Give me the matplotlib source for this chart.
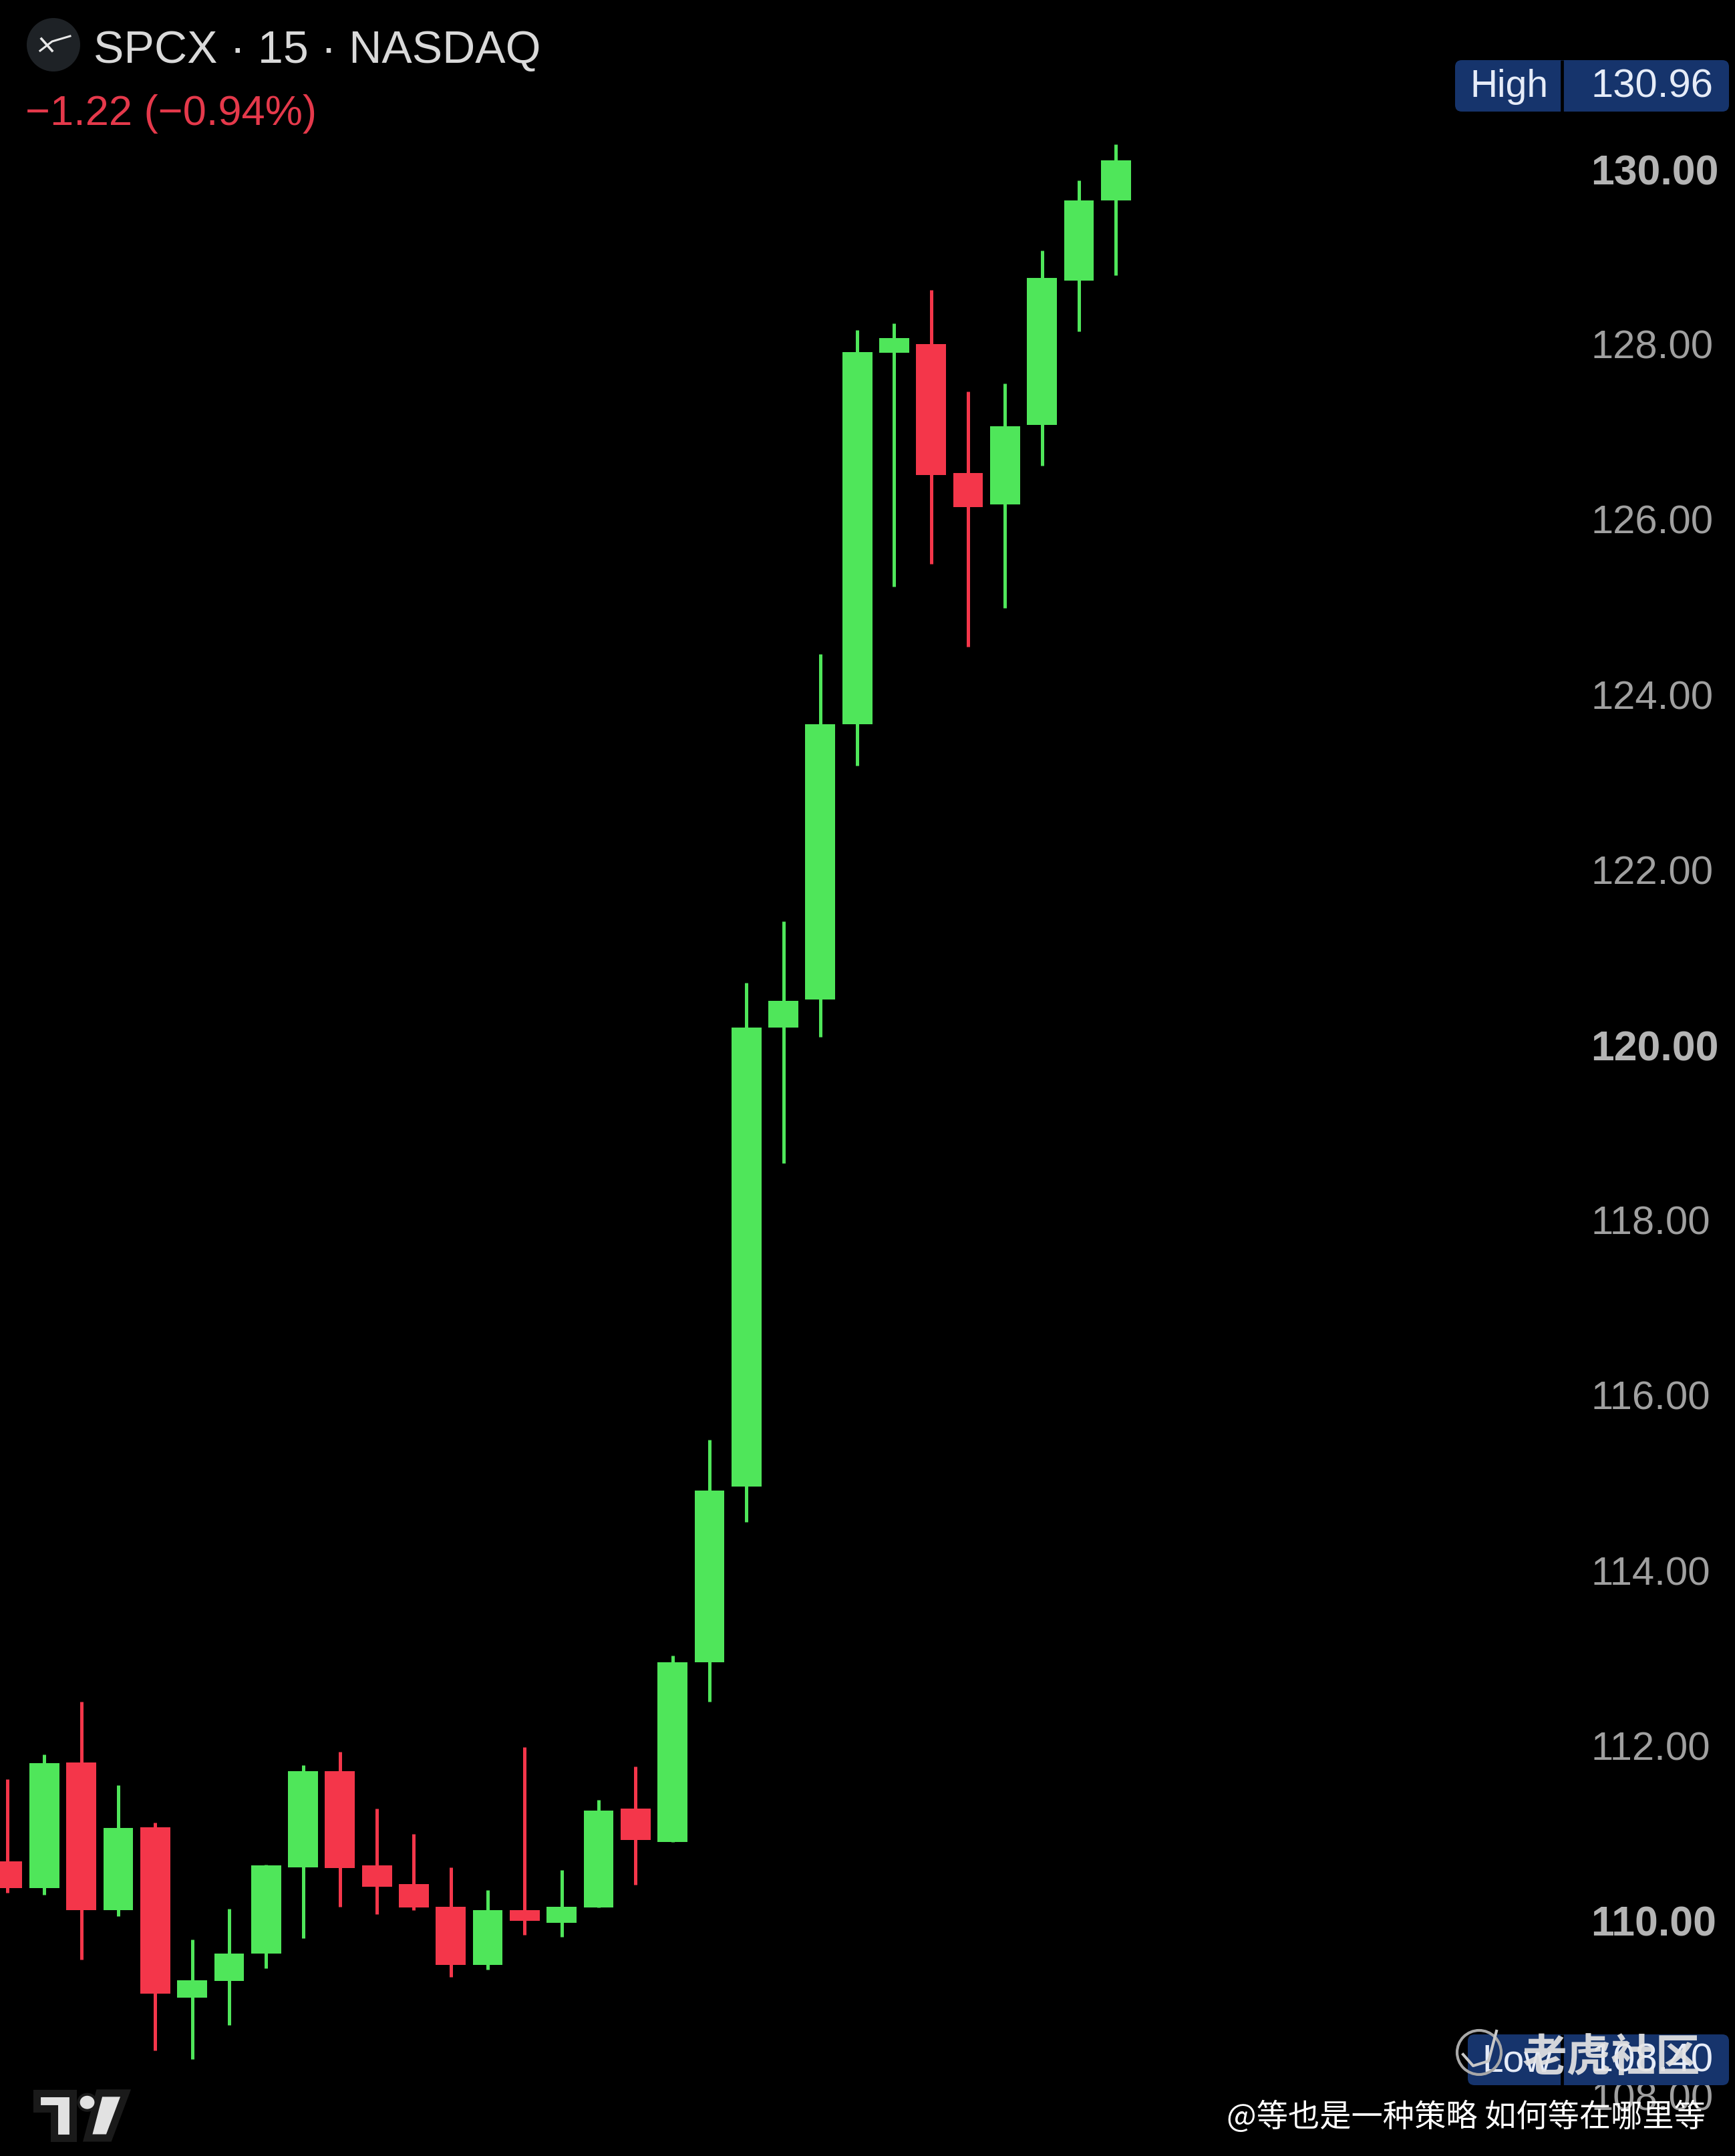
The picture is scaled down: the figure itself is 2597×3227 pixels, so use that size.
import matplotlib
matplotlib.use("Agg")
import matplotlib.pyplot as plt
from matplotlib.patches import FancyBboxPatch, Circle, Polygon, Ellipse
from matplotlib.transforms import Affine2D

W, H = 2597, 3227
opens  = [110.68,110.37,111.81,110.12,111.07,109.12,109.31,109.63,110.61,111.71,110.63,110.42,110.16,109.50,110.12,109.98,110.15,111.28,110.90,112.95,114.96,120.20,120.52,123.66,127.90,128.00,126.53,126.17,127.08,128.73,129.64]
closes = [110.37,111.80,110.12,111.06,109.17,109.32,109.63,110.63,111.71,110.60,110.39,110.15,109.50,110.12,110.00,110.16,111.26,110.92,112.95,114.91,120.20,120.50,123.66,127.91,128.07,126.51,126.14,127.06,128.76,129.64,130.10]
highs  = [111.62,111.90,112.50,111.55,111.12,109.79,110.14,110.64,111.78,111.93,111.28,110.99,110.61,110.35,111.98,110.58,111.38,111.76,113.03,115.49,120.71,121.41,124.46,128.16,128.24,128.62,127.46,127.55,129.07,129.87,130.28]
lows   = [110.32,110.30,109.56,110.05,108.52,108.42,108.81,109.46,109.80,110.16,110.08,110.12,109.36,109.44,109.84,109.82,110.15,110.41,110.90,112.50,114.55,118.65,120.09,123.19,125.23,125.49,124.55,124.99,126.61,128.15,128.79]
tick_values = [108,110,112,114,116,118,120,122,124,126,128,130]
bold_ticks = [110,120,130]
title_text = "SPCX · 15 · NASDAQ"
change_text = "\u22121.22 (\u22120.94%)"
high_label, high_value = "High", "130.96"
low_label, low_value = "Low", "108.40"
watermark = "老虎社区"
caption = "@等也是一种策略 如何等在哪里等"

GREEN, RED = "#4fe65a", "#f4364a"
plt.rcParams['font.family'] = ['Liberation Sans', 'Noto Sans CJK SC', 'DejaVu Sans']

fig = plt.figure(figsize=(W/100, H/100), dpi=100, facecolor="black")
ax = fig.add_axes([0, 0, 1, 1], facecolor="black")
ax.set_xlim(-0.2, 46.755)
ax.set_ylim(107.315, 131.93)
for s in ax.spines.values():
    s.set_visible(False)
ax.xaxis.set_visible(False)

xs = list(range(len(opens)))
colors = [GREEN if c >= o else RED for o, c in zip(opens, closes)]
ax.vlines(xs, lows, highs, colors=colors, linewidth=3.6, zorder=3)
ax.bar(xs, [abs(c-o) for o, c in zip(opens, closes)], bottom=[min(o, c) for o, c in zip(opens, closes)],
       width=0.81, color=colors, linewidth=0, zorder=4)

ax.yaxis.tick_right()
ax.set_yticks(tick_values)
ax.set_yticklabels([f"{v:.2f}" for v in tick_values])
ax.tick_params(axis='y', length=0, pad=-(W-2381)*0.72, labelsize=43)
for lab, v in zip(ax.get_yticklabels(), tick_values):
    if v in bold_ticks:
        lab.set_fontweight('bold'); lab.set_color('#b4b4b4'); lab.set_fontsize(45)
    else:
        lab.set_color('#a0a0a0')

pix = Affine2D().scale(1, -1).translate(0, H)

def box(x0, y0, x1, y1, split):
    ax.add_patch(FancyBboxPatch((x0+10, y0+10), x1-x0-20, y1-y0-20, boxstyle="round,pad=10,rounding_size=10",
                                transform=pix, fc="#16346c", ec="none", zorder=6, clip_on=False))
    ax.plot([split, split], [y0, y1], transform=pix, color="black", lw=3.4, zorder=7, solid_capstyle='butt')

box(2178, 90, 2588, 167, 2338)
box(2197, 3045, 2588, 3121, 2338)
ax.text(2200, 145, high_label, transform=pix, color="#e6ecf8", fontsize=41, zorder=8)
ax.text(2381, 145, high_value, transform=pix, color="#e6ecf8", fontsize=43, zorder=8)
ax.text(2218, 3100, low_label, transform=pix, color="#e6ecf8", fontsize=41, zorder=8)
ax.text(2381, 3100, low_value, transform=pix, color="#e6ecf8", fontsize=43, zorder=8)

# header
ax.add_patch(Ellipse((80, 67), 80, 80, transform=pix, fc="#1e2226", ec="none", zorder=6))
ax.plot([62, 78], [58, 76], transform=pix, color="#e8e8e8", lw=2.6, zorder=7)
ax.plot([60, 78, 105], [76, 62, 54], transform=pix, color="#e8e8e8", lw=2.2, zorder=7)
ax.text(140, 94, title_text, transform=pix, color="#d9d9d9", fontsize=49, zorder=8)
ax.text(38, 187, change_text, transform=pix, color="#e5394b", fontsize=45.5, zorder=8)

# TradingView mark
px = lambda zx: zx/1.425
py = lambda zy: 2500 + zy/2.157
logo_kw = dict(transform=pix, fc="#e2e2e2", ec="#1a1a1a", lw=8, joinstyle='miter', zorder=6)
ax.add_patch(Polygon([(px(a), py(b)) for a, b in [(78,1365),(155,1365),(155,1510),(115,1510),(115,1415),(78,1415)]], **logo_kw))
ax.add_patch(Polygon([(px(a), py(b)) for a, b in [(212,1365),(268,1365),(232,1510),(187,1510)]], **logo_kw))
ax.add_patch(Ellipse((px(186), py(1395)), 26, 24, transform=pix, fc="#e2e2e2", ec="#1a1a1a", lw=3, zorder=7))

# watermark
ax.add_patch(Circle((2214, 3072), 33, transform=pix, fc="none", ec="#a8a8a8", lw=3, zorder=9))
ax.plot([2190, 2205, 2228, 2240], [3075, 3092, 3085, 3040], transform=pix, color="#c8c8c8", lw=3, zorder=9)
ax.text(2279, 3100, watermark, transform=pix, color="#e4e4e4", alpha=0.92, fontsize=48, fontweight='bold',
        family=['Noto Sans CJK SC', 'DejaVu Sans'], zorder=9)
ax.text(1836, 3183, caption, transform=pix, color="white", fontsize=34,
        family=['Noto Sans CJK SC', 'DejaVu Sans'], zorder=10)

fig.savefig("out.png", dpi=100, facecolor="black")
